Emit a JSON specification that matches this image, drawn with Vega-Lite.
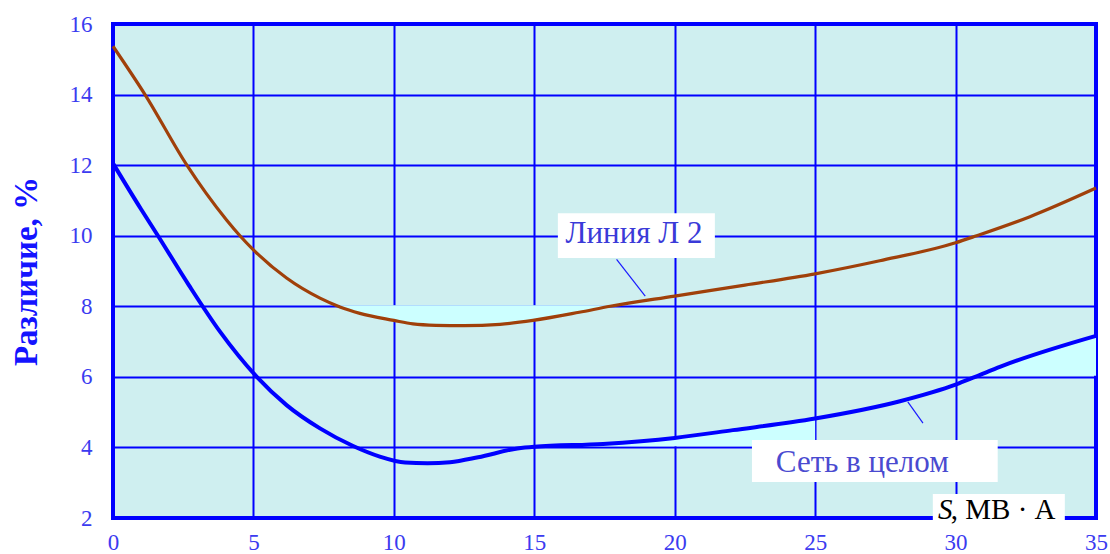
{
  "$schema": "https://vega.github.io/schema/vega-lite/v6.json",
  "width": 983,
  "height": 494,
  "autosize": "none",
  "padding": {"left": 113, "top": 24, "right": 14, "bottom": 36},
  "background": "#ffffff",
  "config": {
    "font": "'Liberation Serif', serif",
    "view": {"stroke": "#0000ff", "strokeWidth": 4, "fill": "#cfeff0"},
    "axis": {
      "labelFont": "'Liberation Serif', serif",
      "labelFontSize": 23,
      "labelColor": "#3b3bf0",
      "ticks": false,
      "domain": false,
      "grid": true,
      "gridColor": "#0000ff",
      "gridWidth": 2,
      "gridOpacity": 1,
      "labelFlush": false,
      "labelOverlap": false
    }
  },
  "datasets": {
    "curves": [
      {"x": 0, "v": 15.37, "series": "Линия Л 2"},
      {"x": 1.14, "v": 14.0, "series": "Линия Л 2"},
      {"x": 2.63, "v": 12.0, "series": "Линия Л 2"},
      {"x": 3.3, "v": 11.22, "series": "Линия Л 2"},
      {"x": 4.05, "v": 10.44, "series": "Линия Л 2"},
      {"x": 4.52, "v": 10.0, "series": "Линия Л 2"},
      {"x": 5, "v": 9.6, "series": "Линия Л 2"},
      {"x": 6.18, "v": 8.8, "series": "Линия Л 2"},
      {"x": 7.37, "v": 8.23, "series": "Линия Л 2"},
      {"x": 8.08, "v": 7.98, "series": "Линия Л 2"},
      {"x": 8.79, "v": 7.8, "series": "Линия Л 2"},
      {"x": 10, "v": 7.6, "series": "Линия Л 2"},
      {"x": 10.68, "v": 7.5, "series": "Линия Л 2"},
      {"x": 11.5, "v": 7.46, "series": "Линия Л 2"},
      {"x": 12.5, "v": 7.45, "series": "Линия Л 2"},
      {"x": 13.78, "v": 7.49, "series": "Линия Л 2"},
      {"x": 14.95, "v": 7.6, "series": "Линия Л 2"},
      {"x": 16.6, "v": 7.83, "series": "Линия Л 2"},
      {"x": 17.7, "v": 8.0, "series": "Линия Л 2"},
      {"x": 20, "v": 8.29, "series": "Линия Л 2"},
      {"x": 22.5, "v": 8.6, "series": "Линия Л 2"},
      {"x": 25, "v": 8.92, "series": "Линия Л 2"},
      {"x": 27.3, "v": 9.29, "series": "Линия Л 2"},
      {"x": 30, "v": 9.8, "series": "Линия Л 2"},
      {"x": 30.75, "v": 10.0, "series": "Линия Л 2"},
      {"x": 32.65, "v": 10.54, "series": "Линия Л 2"},
      {"x": 35, "v": 11.35, "series": "Линия Л 2"},
      {"x": 0, "v": 12.05, "series": "Сеть в целом"},
      {"x": 1, "v": 10.75, "series": "Сеть в целом"},
      {"x": 1.6, "v": 10.0, "series": "Сеть в целом"},
      {"x": 2.7, "v": 8.6, "series": "Сеть в целом"},
      {"x": 3.81, "v": 7.28, "series": "Сеть в целом"},
      {"x": 5.12, "v": 6.0, "series": "Сеть в целом"},
      {"x": 6.18, "v": 5.2, "series": "Сеть в целом"},
      {"x": 7.37, "v": 4.54, "series": "Сеть в целом"},
      {"x": 8.55, "v": 4.04, "series": "Сеть в целом"},
      {"x": 9.5, "v": 3.74, "series": "Сеть в целом"},
      {"x": 10.4, "v": 3.57, "series": "Сеть в целом"},
      {"x": 11.2, "v": 3.55, "series": "Сеть в целом"},
      {"x": 12.0, "v": 3.58, "series": "Сеть в целом"},
      {"x": 13.0, "v": 3.72, "series": "Сеть в целом"},
      {"x": 14.4, "v": 3.97, "series": "Сеть в целом"},
      {"x": 15, "v": 4.02, "series": "Сеть в целом"},
      {"x": 17.45, "v": 4.1, "series": "Сеть в целом"},
      {"x": 20, "v": 4.27, "series": "Сеть в целом"},
      {"x": 22.07, "v": 4.49, "series": "Сеть в целом"},
      {"x": 25, "v": 4.82, "series": "Сеть в целом"},
      {"x": 28.02, "v": 5.31, "series": "Сеть в целом"},
      {"x": 30, "v": 5.78, "series": "Сеть в целом"},
      {"x": 30.7, "v": 6.0, "series": "Сеть в целом"},
      {"x": 31.6, "v": 6.29, "series": "Сеть в целом"},
      {"x": 35, "v": 7.16, "series": "Сеть в целом"}
    ]
  },
  "encoding": {
    "x": {
      "type": "quantitative",
      "scale": {"domain": [0, 35], "nice": false, "zero": false},
      "axis": {"values": [0, 5, 10, 15, 20, 25, 30, 35], "labelPadding": 13, "title": null}
    },
    "y": {
      "type": "quantitative",
      "scale": {"domain": [2, 16], "nice": false, "zero": false},
      "axis": {
        "values": [2, 4, 6, 8, 10, 12, 14, 16],
        "labelPadding": 21,
        "title": "Различие, %",
        "titleFont": "'Liberation Serif', serif",
        "titleFontWeight": "bold",
        "titleFontSize": 33,
        "titleColor": "#1414ff",
        "titleAngle": -90,
        "titleAlign": "center",
        "titleBaseline": "middle",
        "titleX": -87,
        "titleY": 247
      }
    }
  },
  "layer": [
    {
      "data": {"name": "curves"},
      "transform": [{"filter": "datum.x >= 8.08 && datum.x <= 17.7 && datum.v > 7"}],
      "mark": {"type": "area", "interpolate": "monotone", "color": "#ccffff", "opacity": 1},
      "encoding": {"x": {"field": "x", "type": "quantitative"}, "y": {"field": "v", "type": "quantitative"}, "y2": {"datum": 8.03}}
    },
    {
      "data": {"name": "curves"},
      "transform": [{"filter": "datum.x >= 15 && datum.x <= 25 && datum.v < 6"}],
      "mark": {"type": "area", "interpolate": "monotone", "color": "#ccffff", "opacity": 1},
      "encoding": {"x": {"field": "x", "type": "quantitative"}, "y": {"field": "v", "type": "quantitative"}, "y2": {"datum": 4.03}}
    },
    {
      "data": {"name": "curves"},
      "transform": [{"filter": "datum.x >= 30.7 && datum.v < 8"}],
      "mark": {"type": "area", "interpolate": "monotone", "color": "#ccffff", "opacity": 1},
      "encoding": {"x": {"field": "x", "type": "quantitative"}, "y": {"field": "v", "type": "quantitative"}, "y2": {"datum": 6.03}}
    },
    {
      "data": {"name": "curves"},
      "transform": [{"filter": "datum.series == 'Линия Л 2'"}],
      "mark": {"type": "line", "interpolate": "monotone", "strokeWidth": 3.2, "color": "#a0400a"},
      "encoding": {"x": {"field": "x", "type": "quantitative"}, "y": {"field": "v", "type": "quantitative"}}
    },
    {
      "data": {"name": "curves"},
      "transform": [{"filter": "datum.series == 'Сеть в целом'"}],
      "mark": {"type": "line", "interpolate": "monotone", "strokeWidth": 4, "color": "#0000ff"},
      "encoding": {"x": {"field": "x", "type": "quantitative"}, "y": {"field": "v", "type": "quantitative"}}
    },
    {
      "data": {"values": [{}]},
      "mark": {"type": "rule", "color": "#1a1aff", "strokeWidth": 1.2},
      "encoding": {"x": {"datum": 17.93}, "y": {"datum": 9.33}, "x2": {"datum": 18.95}, "y2": {"datum": 8.29}}
    },
    {
      "data": {"values": [{}]},
      "mark": {"type": "rule", "color": "#1a1aff", "strokeWidth": 1.2},
      "encoding": {"x": {"datum": 28.3}, "y": {"datum": 5.29}, "x2": {"datum": 28.84}, "y2": {"datum": 4.69}}
    },
    {
      "data": {"values": [{}]},
      "mark": {"type": "rect", "color": "#ffffff", "opacity": 1},
      "encoding": {"x": {"datum": 15.84}, "x2": {"datum": 21.43}, "y": {"datum": 10.64}, "y2": {"datum": 9.37}}
    },
    {
      "data": {"values": [{}]},
      "mark": {"type": "rect", "color": "#ffffff", "opacity": 1},
      "encoding": {"x": {"datum": 22.75}, "x2": {"datum": 31.5}, "y": {"datum": 4.21}, "y2": {"datum": 3.02}}
    },
    {
      "data": {"values": [{}]},
      "mark": {"type": "rect", "color": "#ffffff", "opacity": 1},
      "encoding": {"x": {"datum": 29.19}, "x2": {"datum": 33.89}, "y": {"datum": 2.68}, "y2": {"datum": 1.9}}
    },
    {
      "data": {"values": [{}]},
      "mark": {"type": "text", "text": "Линия Л 2", "font": "'Liberation Serif', serif", "fontSize": 31, "color": "#3a3ad8", "align": "center", "baseline": "alphabetic"},
      "encoding": {"x": {"datum": 18.55}, "y": {"datum": 9.78}}
    },
    {
      "data": {"values": [{}]},
      "mark": {"type": "text", "text": "Сеть в целом", "font": "'Liberation Serif', serif", "fontSize": 31, "color": "#4a4ad0", "align": "center", "baseline": "alphabetic"},
      "encoding": {"x": {"datum": 26.68}, "y": {"datum": 3.31}}
    },
    {
      "data": {"values": [{}]},
      "mark": {"type": "text", "text": "S", "font": "'Liberation Serif', serif", "fontStyle": "italic", "fontSize": 29, "color": "#000000", "align": "left", "baseline": "alphabetic"},
      "encoding": {"x": {"datum": 29.37}, "y": {"datum": 1.96}}
    },
    {
      "data": {"values": [{}]},
      "mark": {"type": "text", "text": ", МВ · А", "font": "'Liberation Serif', serif", "fontSize": 29, "color": "#000000", "align": "left", "baseline": "alphabetic"},
      "encoding": {"x": {"datum": 29.83}, "y": {"datum": 1.96}}
    }
  ]
}
